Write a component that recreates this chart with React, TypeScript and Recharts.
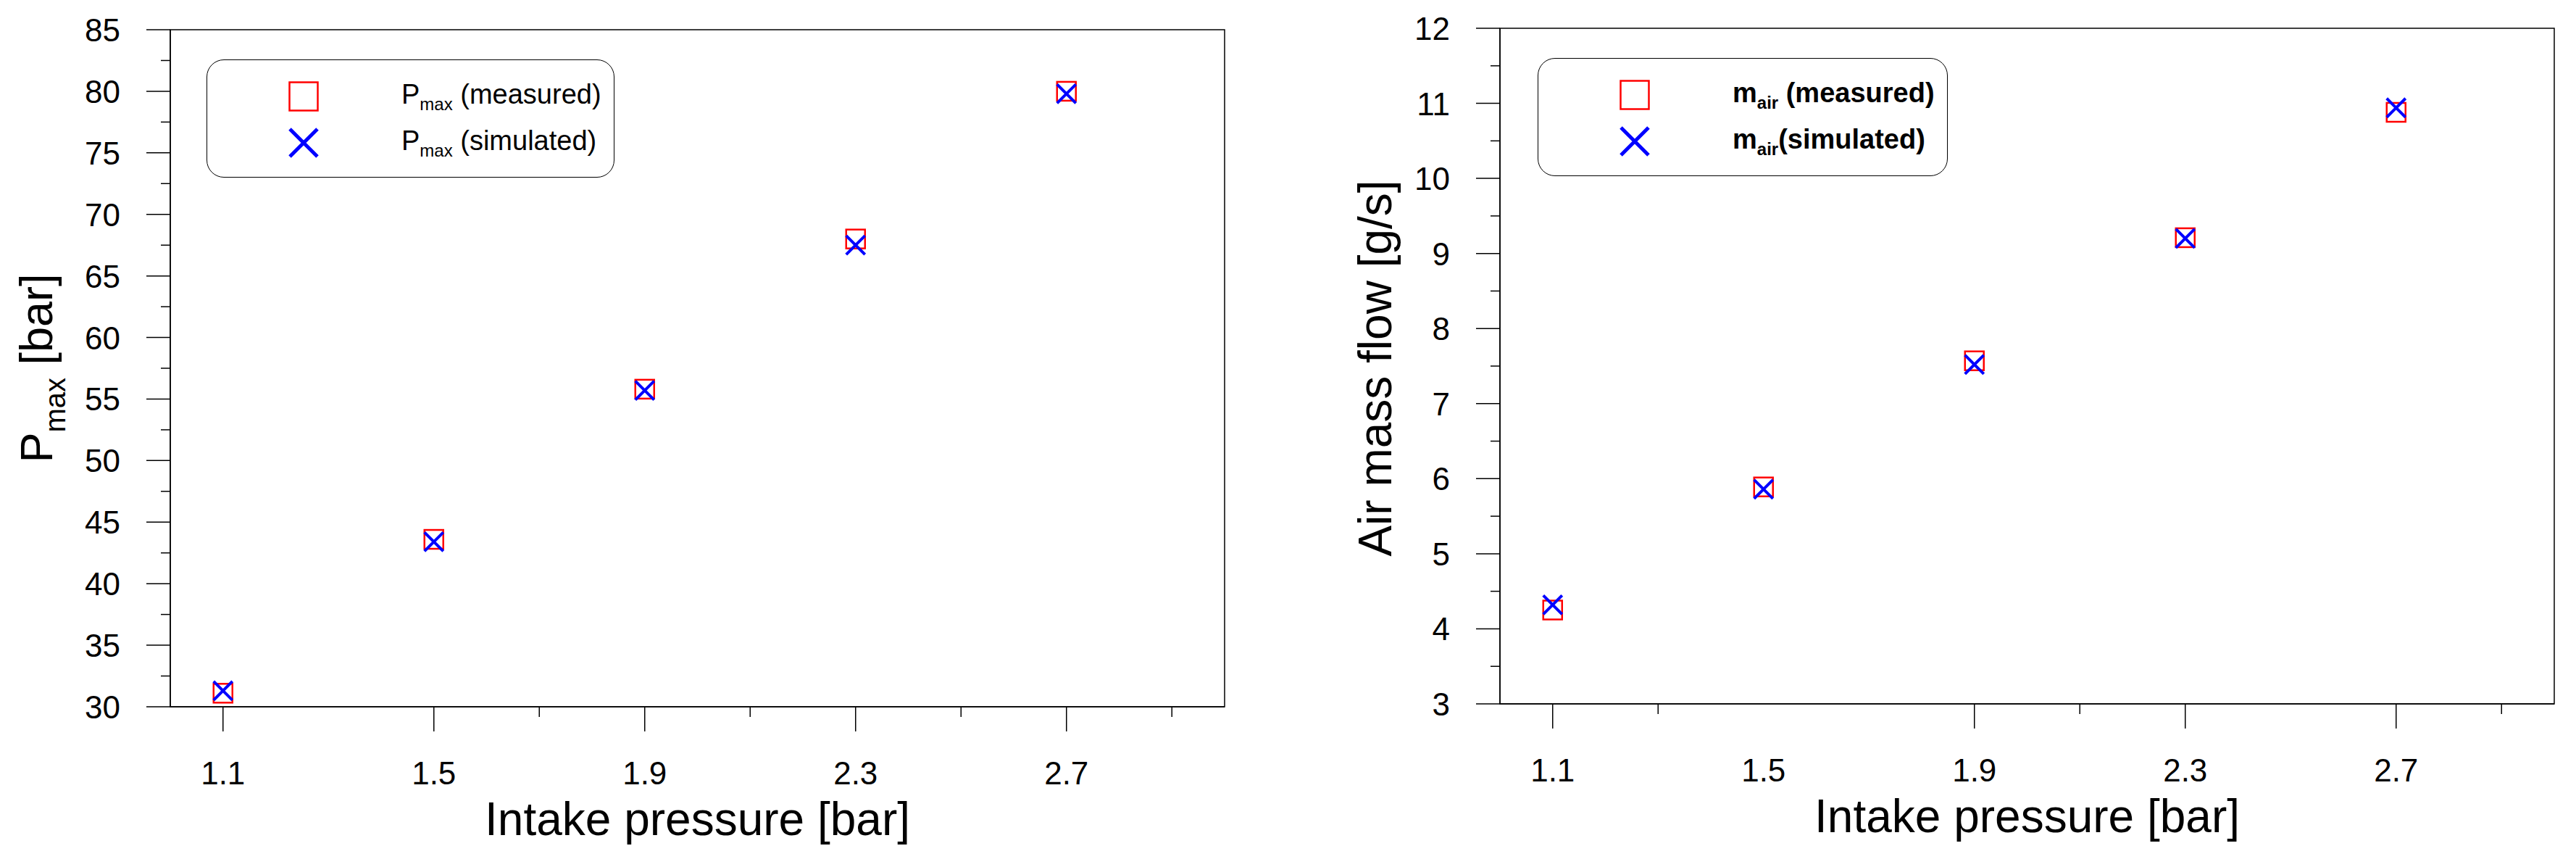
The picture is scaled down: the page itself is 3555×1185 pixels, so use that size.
import { Legend, ReferenceArea, Scatter, ScatterChart, XAxis, YAxis } from 'recharts'

const FONT = '"Liberation Sans", Arial, sans-serif'
const RED = '#ff0000'
const BLUE = '#0000ff'

// x values (intake pressure, bar)
const intakePressure = [1.1, 1.5, 1.9, 2.3, 2.7]

// peak cylinder pressure, bar
const pmaxMeasured = [31.1, 43.6, 55.8, 68.0, 80.0]
const pmaxSimulated = [31.3, 43.4, 55.7, 67.5, 79.8]

// air mass flow, g/s
const mairMeasured = [4.25, 5.89, 7.57, 9.21, 10.88]
const mairSimulated = [4.32, 5.86, 7.52, 9.2, 10.94]

// axes
const xDomain = [1, 3]
const xLabelTicks = [1.1, 1.5, 1.9, 2.3, 2.7]
const pmaxXMajor = [1.1, 1.5, 1.9, 2.3, 2.7]
const pmaxXMinor = [1.7, 2.1, 2.5, 2.9]
const mairXMajor = [1.1, 1.9, 2.3, 2.7]
const mairXMinor = [1.3, 2.1, 2.9]

const pmaxDomain = [30, 85]
const pmaxYTicks = [30, 35, 40, 45, 50, 55, 60, 65, 70, 75, 80, 85]
const pmaxYMinor = [32.5, 37.5, 42.5, 47.5, 52.5, 57.5, 62.5, 67.5, 72.5, 77.5, 82.5]

const mairDomain = [3, 12]
const mairYTicks = [3, 4, 5, 6, 7, 8, 9, 10, 11, 12]
const mairYMinor = [3.5, 4.5, 5.5, 6.5, 7.5, 8.5, 9.5, 10.5, 11.5]

// legend text: main letter, subscript, rest
const pmaxLegend = [
  { name: 'Pmax (measured)', main: 'P', sub: 'max', rest: '\u00a0(measured)' },
  { name: 'Pmax (simulated)', main: 'P', sub: 'max', rest: '\u00a0(simulated)' },
]
const mairLegend = [
  { name: 'mair (measured)', main: 'm', sub: 'air', rest: '\u00a0(measured)' },
  { name: 'mair (simulated)', main: 'm', sub: 'air', rest: '(simulated)' },
]

const toPoints = (xs: number[], ys: number[]) => xs.map((x, i) => ({ x, y: ys[i] }))

function SquareMark({ cx, cy, size = 26 }: any) {
  return (
    <rect x={cx - size / 2} y={cy - size / 2} width={size} height={size} fill="none" stroke={RED} strokeWidth={2.5} />
  )
}

function CrossMark({ cx, cy, size = 26, width = 4 }: any) {
  const h = size / 2
  return (
    <path
      d={`M${cx - h},${cy - h}L${cx + h},${cy + h}M${cx + h},${cy - h}L${cx - h},${cy + h}`}
      stroke={BLUE}
      strokeWidth={width}
      fill="none"
    />
  )
}

function makeXTick(labels: number[], majors: number[], minors: number[]) {
  return (props: any) => {
    const { x, y, payload } = props
    const v = payload.value
    const len = majors.includes(v) ? 34 : minors.includes(v) ? 14 : 0
    return (
      <g>
        {len > 0 && <line x1={x} y1={y} x2={x} y2={y + len} stroke="#000" strokeWidth={1.5} />}
        {labels.includes(v) && (
          <text x={x} y={y + 107} textAnchor="middle" fontSize={44} fontFamily={FONT} fill="#000">
            {v}
          </text>
        )}
      </g>
    )
  }
}

function makeYTick(majors: number[]) {
  return (props: any) => {
    const { x, y, payload } = props
    const v = payload.value
    const major = majors.includes(v)
    return (
      <g>
        <line x1={x - (major ? 33 : 13)} y1={y} x2={x} y2={y} stroke="#000" strokeWidth={1.5} />
        {major && (
          <text x={x - 69} y={y + 16} textAnchor="end" fontSize={44} fontFamily={FONT} fill="#000">
            {v}
          </text>
        )}
      </g>
    )
  }
}

function xTitle(p: any) {
  const vb = p.viewBox
  return (
    <text x={vb.x + vb.width / 2} y={vb.y + 177} textAnchor="middle" fontSize={64} fontFamily={FONT} fill="#000">
      Intake pressure [bar]
    </text>
  )
}

function LegendBox({ payload, rows, bold }: any) {
  return (
    <div
      style={{
        position: 'relative',
        width: '100%',
        height: '100%',
        boxSizing: 'border-box',
        border: '1.5px solid #000',
        borderRadius: 24,
        background: '#fff',
        fontFamily: FONT,
        fontSize: 38,
        fontWeight: bold ? 700 : 400,
        color: '#000',
      }}
    >
      {(payload ?? []).map((entry: any, i: number) => {
        const row = rows.find((r: any) => r.name === entry.value) ?? rows[i]
        const top = i === 0 ? 29 : 93
        return (
          <div key={row.name} style={{ position: 'absolute', left: 0, top, width: '100%', height: 42 }}>
            <svg style={{ position: 'absolute', left: 112, top: 0 }} width={42} height={42}>
              {i === 0 ? <SquareMark cx={21} cy={21} size={39} /> : <CrossMark cx={21} cy={21} size={38} width={5} />}
            </svg>
            <span style={{ position: 'absolute', left: 268, top: -3, lineHeight: '42px', whiteSpace: 'nowrap' }}>
              {row.main}
              <span style={{ fontSize: 24, verticalAlign: -9 }}>{row.sub}</span>
              {row.rest}
            </span>
          </div>
        )
      })}
    </div>
  )
}

function PmaxChart() {
  return (
    <ScatterChart width={1780} height={1185} margin={{ top: 41, right: 90, bottom: 0, left: 0 }}>
      <ReferenceArea
        x1={xDomain[0]}
        x2={xDomain[1]}
        y1={pmaxDomain[0]}
        y2={pmaxDomain[1]}
        fill="none"
        stroke="#000"
        strokeWidth={1.5}
      />
      <XAxis
        type="number"
        dataKey="x"
        domain={xDomain}
        ticks={[...pmaxXMajor, ...pmaxXMinor].sort((a, b) => a - b)}
        interval={0}
        tickSize={0}
        tickMargin={0}
        tickLine={false}
        axisLine={{ stroke: '#000', strokeWidth: 1.5 }}
        height={210}
        tick={makeXTick(xLabelTicks, pmaxXMajor, pmaxXMinor)}
        allowDataOverflow
        label={xTitle}
      />
      <YAxis
        type="number"
        dataKey="y"
        domain={pmaxDomain}
        ticks={[...pmaxYTicks, ...pmaxYMinor].sort((a, b) => a - b)}
        interval={0}
        tickSize={0}
        tickMargin={0}
        tickLine={false}
        axisLine={{ stroke: '#000', strokeWidth: 1.5 }}
        width={235}
        tick={makeYTick(pmaxYTicks)}
        allowDataOverflow
        label={(p: any) => {
          const vb = p.viewBox
          const cx = vb.x + 72
          const cy = vb.y + vb.height / 2
          return (
            <text
              transform={`translate(${cx},${cy}) rotate(-90)`}
              textAnchor="middle"
              fontSize={63}
              fontFamily={FONT}
              fill="#000"
            >
              <tspan>P</tspan>
              <tspan fontSize={40} dy={18}>max</tspan>
              <tspan dy={-18}>{'\u00a0[bar]'}</tspan>
            </text>
          )
        }}
      />
      <Legend
        layout="vertical"
        align="center"
        verticalAlign="middle"
        wrapperStyle={{ left: 285, top: 82, width: 563, height: 163 }}
        content={(props: any) => <LegendBox payload={props.payload} rows={pmaxLegend} bold={false} />}
      />
      <Scatter
        name={pmaxLegend[0].name}
        data={toPoints(intakePressure, pmaxMeasured)}
        fill={RED}
        isAnimationActive={false}
        shape={(p: any) => <SquareMark cx={p.cx} cy={p.cy} />}
      />
      <Scatter
        name={pmaxLegend[1].name}
        data={toPoints(intakePressure, pmaxSimulated)}
        fill={BLUE}
        isAnimationActive={false}
        shape={(p: any) => <CrossMark cx={p.cx} cy={p.cy} />}
      />
    </ScatterChart>
  )
}

function MairChart() {
  return (
    <ScatterChart width={1775} height={1185} margin={{ top: 39, right: 30, bottom: 0, left: 0 }}>
      <ReferenceArea
        x1={xDomain[0]}
        x2={xDomain[1]}
        y1={mairDomain[0]}
        y2={mairDomain[1]}
        fill="none"
        stroke="#000"
        strokeWidth={1.5}
      />
      <XAxis
        type="number"
        dataKey="x"
        domain={xDomain}
        ticks={[...xLabelTicks, ...mairXMinor].sort((a, b) => a - b)}
        interval={0}
        tickSize={0}
        tickMargin={0}
        tickLine={false}
        axisLine={{ stroke: '#000', strokeWidth: 1.5 }}
        height={214}
        tick={makeXTick(xLabelTicks, mairXMajor, mairXMinor)}
        allowDataOverflow
        label={xTitle}
      />
      <YAxis
        type="number"
        dataKey="y"
        domain={mairDomain}
        ticks={[...mairYTicks, ...mairYMinor].sort((a, b) => a - b)}
        interval={0}
        tickSize={0}
        tickMargin={0}
        tickLine={false}
        axisLine={{ stroke: '#000', strokeWidth: 1.5 }}
        width={290}
        tick={makeYTick(mairYTicks)}
        allowDataOverflow
        label={(p: any) => {
          const vb = p.viewBox
          const cx = vb.x + 140
          const cy = vb.y + vb.height / 2 + 3
          return (
            <text
              transform={`translate(${cx},${cy}) rotate(-90)`}
              textAnchor="middle"
              fontSize={64}
              fontFamily={FONT}
              fill="#000"
            >
              Air mass flow [g/s]
            </text>
          )
        }}
      />
      <Legend
        layout="vertical"
        align="center"
        verticalAlign="middle"
        wrapperStyle={{ left: 342, top: 80, width: 566, height: 163 }}
        content={(props: any) => <LegendBox payload={props.payload} rows={mairLegend} bold />}
      />
      <Scatter
        name={mairLegend[0].name}
        data={toPoints(intakePressure, mairMeasured)}
        fill={RED}
        isAnimationActive={false}
        shape={(p: any) => <SquareMark cx={p.cx} cy={p.cy} />}
      />
      <Scatter
        name={mairLegend[1].name}
        data={toPoints(intakePressure, mairSimulated)}
        fill={BLUE}
        isAnimationActive={false}
        shape={(p: any) => <CrossMark cx={p.cx} cy={p.cy} />}
      />
    </ScatterChart>
  )
}

export default function App() {
  return (
    <div
      style={{
        position: 'absolute',
        left: 0,
        top: 0,
        width: 3555,
        height: 1185,
        background: '#fff',
        overflow: 'hidden',
      }}
    >
      <div style={{ position: 'absolute', left: 0, top: 0 }}>
        <PmaxChart />
      </div>
      <div style={{ position: 'absolute', left: 1780, top: 0 }}>
        <MairChart />
      </div>
    </div>
  )
}
